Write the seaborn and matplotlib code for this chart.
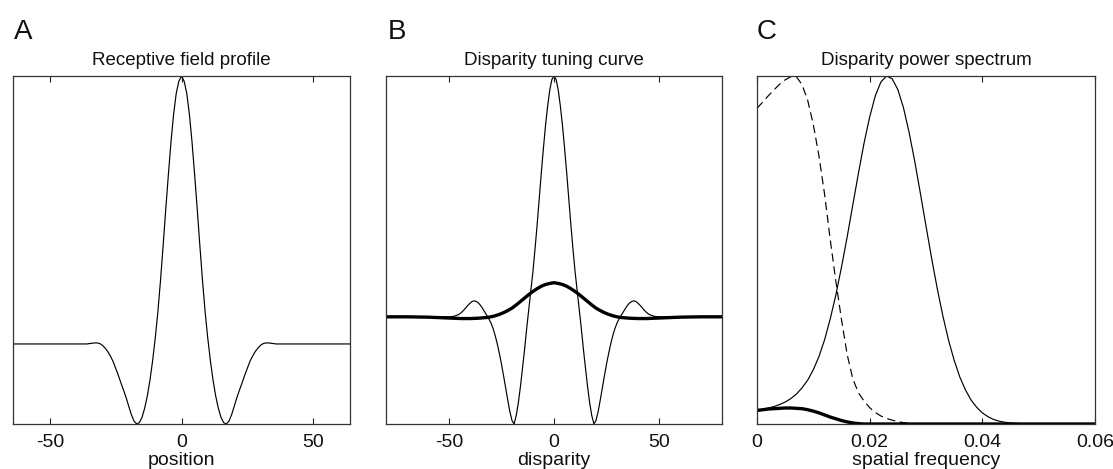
import matplotlib
matplotlib.use("Agg")
import matplotlib.pyplot as plt
import seaborn as sns

# ---------------- data ----------------
# Panel A: receptive field profile
rf_position = [-64, -50, -40, -36, -35, -34, -33, -32, -31, -30, -29, -28, -27, -26, -25,
               -24, -23, -22, -21, -20, -19, -18, -17, -16, -15, -14, -13, -12, -11, -10,
               -9, -8, -7, -6, -5, -4, -3, -2, -1, 0, 1, 2, 3, 4, 5, 6, 7, 8, 9, 10,
               11, 12, 13, 14, 15, 16, 17, 18, 19, 20, 21, 22, 23, 24, 25, 26, 27, 28,
               29, 30, 31, 32, 33, 34, 35, 36, 40, 50, 64]
rf_profile = [0.23, 0.23, 0.23, 0.23, 0.231, 0.232, 0.233, 0.233, 0.231, 0.226, 0.218, 0.208,
              0.195, 0.18, 0.16, 0.14, 0.118, 0.097, 0.075, 0.05, 0.026, 0.008, 0.0, 0.004,
              0.019, 0.045, 0.08, 0.125, 0.18, 0.245, 0.32, 0.41, 0.51, 0.615, 0.715, 0.81,
              0.89, 0.95, 0.985, 1.0, 0.985, 0.95, 0.89, 0.81, 0.715, 0.615, 0.51, 0.41, 0.32,
              0.245, 0.18, 0.125, 0.08, 0.045, 0.019, 0.004, 0.0, 0.008, 0.026, 0.05, 0.075,
              0.097, 0.118, 0.14, 0.16, 0.18, 0.195, 0.208, 0.218, 0.226, 0.231, 0.233, 0.233,
              0.232, 0.231, 0.23, 0.23, 0.23, 0.23]

# Panel B: disparity tuning curves
disp_thin_x = [-80, -60, -50, -48, -47, -46, -45, -44, -43, -42, -41, -40, -39, -38, -37, -36,
               -35, -34, -33, -32, -31, -30, -29, -28, -27, -26, -25, -24, -23, -22, -21, -20,
               -19, -18, -17, -16, -15, -14, -13, -12, -11, -10, -9, -8, -7, -6, -5, -4, -3,
               -2, -1, 0, 1, 2, 3, 4, 5, 6, 7, 8, 9, 10, 11, 12, 13, 14, 15, 16, 17, 18, 19,
               20, 21, 22, 23, 24, 25, 26, 27, 28, 29, 30, 31, 32, 33, 34, 35, 36, 37, 38, 39,
               40, 41, 42, 43, 44, 45, 46, 47, 48, 50, 60, 80]
disp_thin = [0.308, 0.308, 0.308, 0.309, 0.311, 0.313, 0.316, 0.321, 0.327, 0.334, 0.341,
             0.347, 0.352, 0.354, 0.352, 0.348, 0.341, 0.332, 0.322, 0.312, 0.302, 0.29,
             0.274, 0.254, 0.23, 0.202, 0.172, 0.138, 0.103, 0.068, 0.035, 0.01, 0.0, 0.024,
             0.06, 0.107, 0.16, 0.215, 0.275, 0.33, 0.385, 0.44, 0.505, 0.575, 0.65, 0.725,
             0.795, 0.86, 0.915, 0.96, 0.99, 1.0, 0.99, 0.96, 0.915, 0.86, 0.795, 0.725, 0.65,
             0.575, 0.505, 0.44, 0.385, 0.33, 0.275, 0.215, 0.16, 0.107, 0.06, 0.024, 0.0,
             0.01, 0.035, 0.068, 0.103, 0.138, 0.172, 0.202, 0.23, 0.254, 0.274, 0.29, 0.302,
             0.312, 0.322, 0.332, 0.341, 0.348, 0.352, 0.354, 0.352, 0.347, 0.341, 0.334,
             0.327, 0.321, 0.316, 0.313, 0.311, 0.309, 0.308, 0.308, 0.308]
disp_thick_x = [-80, -70, -60, -56, -52, -48, -44, -40, -36, -34, -32, -30, -28, -26, -24, -22,
                -20, -18, -16, -14, -12, -10, -8, -6, -4, -2, 0, 2, 4, 6, 8, 10, 12, 14, 16,
                18, 20, 22, 24, 26, 28, 30, 32, 34, 36, 40, 44, 48, 52, 56, 60, 70, 80]
disp_thick = [0.308, 0.308, 0.307, 0.306, 0.305, 0.304, 0.303, 0.303, 0.304, 0.305, 0.306,
              0.308, 0.311, 0.315, 0.32, 0.326, 0.333, 0.342, 0.352, 0.362, 0.372, 0.381,
              0.389, 0.396, 0.401, 0.404, 0.406, 0.404, 0.401, 0.396, 0.389, 0.381, 0.372,
              0.362, 0.352, 0.342, 0.333, 0.326, 0.32, 0.315, 0.311, 0.308, 0.306, 0.305,
              0.304, 0.303, 0.303, 0.304, 0.305, 0.306, 0.307, 0.308, 0.308]

# Panel C: disparity power spectra
freq_solid = [0.000, 0.001, 0.002, 0.003, 0.004, 0.005, 0.006, 0.007, 0.008, 0.009, 0.010,
              0.011, 0.012, 0.013, 0.014, 0.015, 0.016, 0.017, 0.018, 0.019, 0.020, 0.021,
              0.022, 0.023, 0.024, 0.025, 0.026, 0.027, 0.028, 0.029, 0.030, 0.031, 0.032,
              0.033, 0.034, 0.035, 0.036, 0.037, 0.038, 0.039, 0.040, 0.041, 0.042, 0.043,
              0.044, 0.045, 0.046, 0.047, 0.048, 0.050, 0.055, 0.060]
power_solid = [0.039, 0.042, 0.046, 0.050, 0.056, 0.063, 0.073, 0.086, 0.104, 0.126, 0.156,
               0.194, 0.242, 0.302, 0.371, 0.451, 0.537, 0.629, 0.720, 0.807, 0.882, 0.943,
               0.983, 1.000, 0.992, 0.961, 0.909, 0.838, 0.755, 0.663, 0.569, 0.476, 0.389,
               0.310, 0.241, 0.183, 0.135, 0.098, 0.069, 0.048, 0.032, 0.021, 0.013, 0.008,
               0.005, 0.003, 0.002, 0.001, 0.0005, 0.0, 0.0, 0.0]
freq_dashed = [0.000, 0.001, 0.002, 0.003, 0.004, 0.005, 0.006, 0.007, 0.008, 0.009, 0.010,
               0.011, 0.012, 0.013, 0.014, 0.015, 0.016, 0.017, 0.018, 0.019, 0.020, 0.021,
               0.022, 0.023, 0.024, 0.025, 0.026, 0.027, 0.028, 0.029, 0.030]
power_dashed = [0.907, 0.925, 0.943, 0.960, 0.976, 0.989, 0.998, 0.998, 0.975, 0.930, 0.860,
                0.770, 0.660, 0.530, 0.410, 0.300, 0.200, 0.130, 0.090, 0.066, 0.047, 0.033,
                0.023, 0.016, 0.011, 0.007, 0.004, 0.002, 0.001, 0.0, 0.0]
freq_thick = [0.000, 0.001, 0.002, 0.003, 0.004, 0.005, 0.006, 0.007, 0.008, 0.009, 0.010,
              0.011, 0.012, 0.013, 0.014, 0.015, 0.016, 0.017, 0.018, 0.019, 0.020, 0.030,
              0.040, 0.050, 0.060]
power_thick = [0.039, 0.041, 0.043, 0.044, 0.045, 0.046, 0.046, 0.045, 0.044, 0.041, 0.037,
               0.032, 0.026, 0.020, 0.015, 0.010, 0.006, 0.003, 0.001, 0.0, 0.0, 0.0, 0.0,
               0.0, 0.0]

titles = ["Receptive field profile", "Disparity tuning curve", "Disparity power spectrum"]
xlabels = ["position", "disparity", "spatial frequency"]
letters = ["A", "B", "C"]
xticks_A = [-50, 0, 50]
xticks_B = [-50, 0, 50]
xticks_C = [0, 0.02, 0.04, 0.06]
xtick_labels_C = ["0", "0.02", "0.04", "0.06"]

# ---------------- style ----------------
sns.set_theme(style="white")
plt.rcParams["font.family"] = ["Liberation Sans", "DejaVu Sans"]

W, H = 1113, 469
fig = plt.figure(figsize=(W / 100, H / 100), dpi=100)

def ax_rect(x0, x1, y0=76, y1=424):
    return [x0 / W, (H - y1) / H, (x1 - x0) / W, (y1 - y0) / H]

axA = fig.add_axes(ax_rect(13, 350))
axB = fig.add_axes(ax_rect(386, 722))
axC = fig.add_axes(ax_rect(757, 1095))

thin = 0.85
thick = 2.4

sns.lineplot(x=rf_position, y=rf_profile, ax=axA, color="black", linewidth=thin,
             estimator=None, sort=False)

sns.lineplot(x=disp_thin_x, y=disp_thin, ax=axB, color="black", linewidth=thin,
             estimator=None, sort=False)
sns.lineplot(x=disp_thick_x, y=disp_thick, ax=axB, color="black", linewidth=thick,
             estimator=None, sort=False)

sns.lineplot(x=freq_dashed, y=power_dashed, ax=axC, color="black", linewidth=thin,
             estimator=None, sort=False, linestyle=(0, (7, 4)))
sns.lineplot(x=freq_solid, y=power_solid, ax=axC, color="black", linewidth=thin,
             estimator=None, sort=False)
sns.lineplot(x=freq_thick, y=power_thick, ax=axC, color="black", linewidth=thick,
             estimator=None, sort=False)

axA.set_xlim(-64, 64)
axB.set_xlim(-80, 80)
axC.set_xlim(0, 0.06)
for ax in (axA, axB, axC):
    ax.set_ylim(0, 1)

axA.set_xticks(xticks_A)
axA.set_xticklabels([str(t) for t in xticks_A])
axB.set_xticks(xticks_B)
axB.set_xticklabels([str(t) for t in xticks_B])
axC.set_xticks(xticks_C)
axC.set_xticklabels(xtick_labels_C)

letter_x = [14, 388, 757]
for ax, title, xl, letter, lx in zip((axA, axB, axC), titles, xlabels, letters, letter_x):
    ax.set_yticks([])
    ax.set_ylabel("")
    ax.set_title(title, fontsize=13.5, pad=8, color="#111111")
    ax.set_xlabel(xl, fontsize=14, labelpad=1, color="#111111")
    ax.tick_params(axis="x", direction="in", top=True, bottom=True, length=4, width=0.8,
                   labelsize=14, pad=7, colors="#222222", labelcolor="#111111")
    for s in ax.spines.values():
        s.set_color("#333333")
        s.set_linewidth(0.9)
        s.set_visible(True)
    fig.text(lx / W, (H - 39) / H, letter, fontsize=20, ha="left", va="baseline",
             color="#111111")

fig.savefig("out.png", dpi=100)
